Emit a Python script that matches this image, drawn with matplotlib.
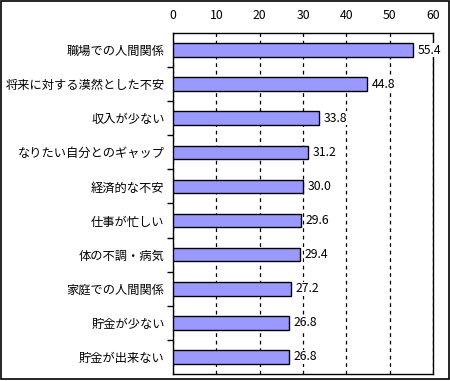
import matplotlib
matplotlib.use("Agg")
from matplotlib import pyplot as plt
import numpy as np

plt.rcParams['font.family'] = ['Noto Sans CJK JP', 'DejaVu Sans']

labels = ["職場での人間関係", "将来に対する漠然とした不安", "収入が少ない",
          "なりたい自分とのギャップ", "経済的な不安", "仕事が忙しい",
          "体の不調・病気", "家庭での人間関係", "貯金が少ない", "貯金が出来ない"]
values = [55.4, 44.8, 33.8, 31.2, 30.0, 29.6, 29.4, 27.2, 26.8, 26.8]
xticks = [0, 10, 20, 30, 40, 50, 60]

fig = plt.figure(figsize=(4.5, 3.81), dpi=100)
ax = fig.add_axes([173 / 450, 1 - 374 / 381, 260 / 450, 341 / 381])

y = np.arange(len(labels))
ax.barh(y, values, height=0.4, color="#9999ff", edgecolor="black", linewidth=1.0, zorder=3)
for yi, v in zip(y, values):
    ax.text(v + 1.0, yi, f"{v:.1f}", va="center", ha="left", fontsize=8.8, zorder=4,
            bbox=dict(facecolor="white", edgecolor="none", pad=0.5))

ax.set_xlim(0, 60)
ax.set_ylim(len(labels) - 0.5, -0.5)
ax.set_xticks(xticks)
ax.xaxis.tick_top()
ax.tick_params(axis="x", length=0, pad=8, labelsize=8.8)
ax.set_yticks(y)
ax.set_yticklabels(labels, fontsize=8.8)
ax.tick_params(axis="y", which="major", length=0, pad=6)
ax.set_yticks(np.arange(0.5, len(labels) - 0.5, 1), minor=True)
ax.tick_params(axis="y", which="minor", length=4, direction="out", width=1)
ax.grid(axis="x", linestyle=(0, (3, 3)), color="black", linewidth=0.9, zorder=1)
for s in ax.spines.values():
    s.set_linewidth(1.0)

fig.patches.append(plt.Rectangle((0.002, 0.004), 0.995, 0.993, transform=fig.transFigure,
                                 fill=False, edgecolor="black", linewidth=1.2))

fig.savefig("out.png", dpi=100)
